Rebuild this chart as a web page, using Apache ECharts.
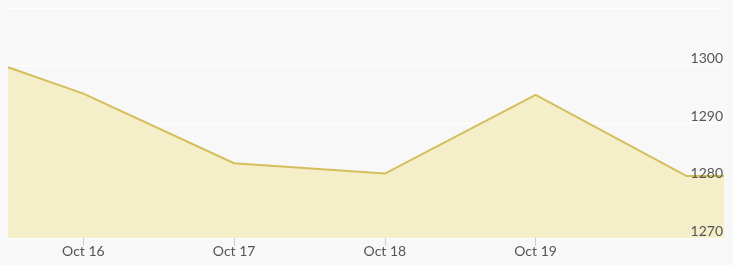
<!DOCTYPE html>
<html>
<head>
<meta charset="utf-8">
<script src="https://cdn.jsdelivr.net/npm/echarts@6/dist/echarts.min.js"></script>
<style>
html,body{margin:0;padding:0;background:#f8f8f8;}
#c{width:733px;height:265px;}
</style>
</head>
<body>
<div id="c"></div>
<script>
// Data (dates as [year, monthIndex, day, hour])
const dates = [[2023,9,15,12],[2023,9,16,0],[2023,9,17,0],[2023,9,18,0],[2023,9,19,0],[2023,9,20,0],[2023,9,20,6]];
const values = [1299.7, 1295.1, 1283.0, 1281.2, 1294.9, 1280.8, 1280.8];
const tickDates = [[2023,9,16],[2023,9,17],[2023,9,18],[2023,9,19]];
const monthNames = ['Jan','Feb','Mar','Apr','May','Jun','Jul','Aug','Sep','Oct','Nov','Dec'];

const ts = d => new Date(d[0], d[1], d[2], d[3] || 0).getTime();
const seriesData = dates.map((d, i) => [ts(d), values[i]]);
const tickVals = tickDates.map(ts);

const yBase = {
  type: 'value',
  position: 'right',
  offset: 0,
  min: 1270,
  max: 1310,
  interval: 10,
  axisLine: {show: false},
  axisTick: {show: false}
};

const chart = echarts.init(document.getElementById('c'), null, {renderer: 'canvas'});
chart.setOption({
  backgroundColor: '#f8f8f8',
  animation: false,
  grid: {left: 8, right: 9, top: 8, bottom: 27},
  xAxis: {
    type: 'value',
    z: 5,
    min: ts(dates[0]),
    max: ts(dates[dates.length - 1]),
    axisLine: {show: false},
    splitLine: {show: false},
    axisTick: {show: true, customValues: tickVals, length: 8, lineStyle: {color: '#c3d2e0', width: 1}},
    axisLabel: {
      customValues: tickVals,
      margin: 6,
      color: '#555',
      fontFamily: 'Lato',
      fontSize: 14,
      formatter: v => { const d = new Date(v); return monthNames[d.getMonth()] + ' ' + d.getDate(); }
    }
  },
  yAxis: [
    Object.assign({}, yBase, {
      z: 0,
      splitLine: {lineStyle: {color: '#ffffff', width: 1}},
      axisLabel: {show: false}
    }),
    Object.assign({}, yBase, {
      z: 5,
      splitLine: {show: false},
      axisLabel: {
        inside: true,
        margin: 1,
        showMaxLabel: false,
        showMinLabel: true,
        hideOverlap: false,
        verticalAlign: 'bottom',
        color: '#555',
        fontFamily: 'Lato',
        fontSize: 14,
        formatter: v => String(v)
      }
    })
  ],
  series: [{
    type: 'line',
    data: seriesData,
    yAxisIndex: 0,
    symbol: 'none',
    z: 2,
    lineStyle: {color: '#d4bf5c', width: 2},
    areaStyle: {color: '#f5efc9', opacity: 1}
  }]
});
</script>
</body>
</html>
